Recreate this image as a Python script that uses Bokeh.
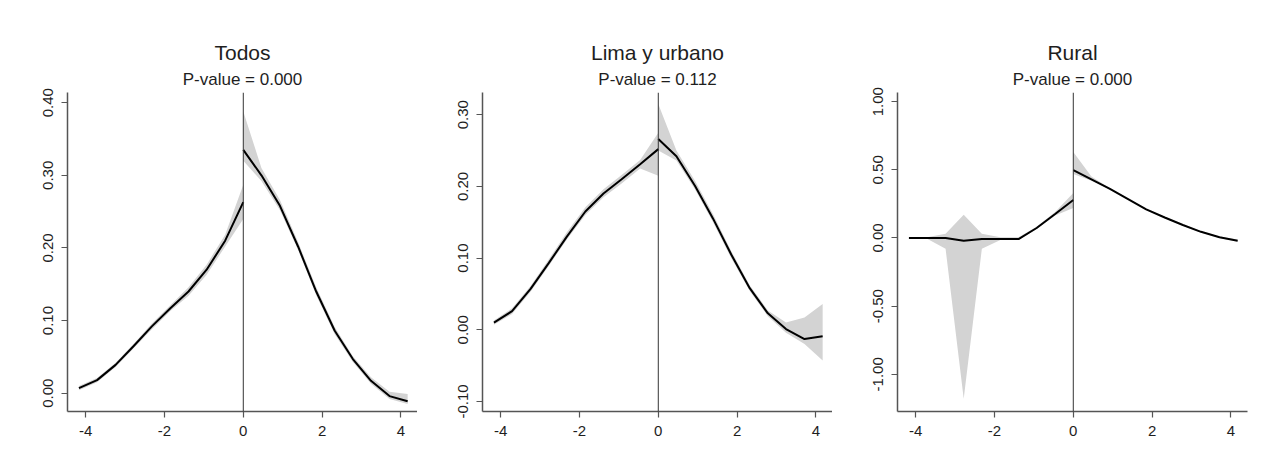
from bokeh.plotting import figure
from bokeh.layouts import row
from bokeh.models import Span, Title, FixedTicker, PrintfTickFormatter, Range1d
from bokeh.embed import file_html
from bokeh.resources import INLINE

# ---- data ----
x_left = [-4.17, -3.71, -3.24, -2.78, -2.32, -1.85, -1.39, -0.93, -0.46, 0.0]
x_right = [0.0, 0.46, 0.93, 1.39, 1.85, 2.32, 2.78, 3.24, 3.71, 4.17]

todos_fit_left = [0.007, 0.018, 0.039, 0.065, 0.092, 0.117, 0.140, 0.170, 0.210, 0.263]
todos_lo_left = [0.004, 0.015, 0.036, 0.062, 0.088, 0.113, 0.134, 0.163, 0.202, 0.240]
todos_hi_left = [0.010, 0.021, 0.042, 0.068, 0.096, 0.121, 0.146, 0.177, 0.218, 0.287]
todos_fit_right = [0.335, 0.300, 0.258, 0.202, 0.140, 0.086, 0.047, 0.017, -0.004, -0.011]
todos_lo_right = [0.320, 0.292, 0.252, 0.197, 0.135, 0.081, 0.043, 0.013, -0.008, -0.015]
todos_hi_right = [0.388, 0.310, 0.266, 0.208, 0.146, 0.091, 0.051, 0.022, 0.002, -0.001]

lima_fit_left = [0.010, 0.026, 0.057, 0.093, 0.130, 0.165, 0.190, 0.210, 0.231, 0.252]
lima_lo_left = [0.007, 0.022, 0.053, 0.089, 0.126, 0.160, 0.185, 0.204, 0.225, 0.215]
lima_hi_left = [0.013, 0.030, 0.061, 0.098, 0.136, 0.171, 0.196, 0.216, 0.237, 0.275]
lima_fit_right = [0.266, 0.242, 0.201, 0.155, 0.105, 0.058, 0.023, 0.001, -0.013, -0.009]
lima_lo_right = [0.250, 0.236, 0.196, 0.150, 0.100, 0.054, 0.019, -0.004, -0.020, -0.043]
lima_hi_right = [0.315, 0.250, 0.208, 0.161, 0.110, 0.062, 0.027, 0.010, 0.017, 0.036]

rural_fit_left = [0.0, 0.0, 0.0, -0.02, -0.008, -0.008, -0.008, 0.073, 0.176, 0.279]
rural_lo_left = [-0.005, -0.005, -0.08, -1.18, -0.08, -0.015, -0.015, 0.065, 0.165, 0.22]
rural_hi_left = [0.005, 0.005, 0.03, 0.17, 0.03, 0.005, 0.005, 0.082, 0.19, 0.33]
rural_fit_right = [0.498, 0.43, 0.36, 0.285, 0.21, 0.15, 0.095, 0.045, 0.005, -0.02]
rural_lo_right = [0.47, 0.42, 0.355, 0.28, 0.205, 0.145, 0.09, 0.04, 0.0, -0.028]
rural_hi_right = [0.63, 0.45, 0.365, 0.29, 0.215, 0.155, 0.10, 0.05, 0.01, -0.012]

titles = ["Todos", "Lima y urbano", "Rural"]
pvalues = ["P-value = 0.000", "P-value = 0.112", "P-value = 0.000"]
x_ticks = [-4, -2, 0, 2, 4]
todos_yticks = [0.0, 0.1, 0.2, 0.3, 0.4]
lima_yticks = [-0.1, 0.0, 0.1, 0.2, 0.3]
rural_yticks = [-1.0, -0.5, 0.0, 0.5, 1.0]

FONT = "Liberation Sans"
TXT = "#1e1e1e"
AX = "#555555"


def panel(title, pval, fl, lol, hil, fr, lor, hir, yr, yticks, width, bl, br):
    p = figure(width=width, height=460, output_backend="svg", toolbar_location=None,
               x_range=Range1d(-4.46, 4.42), y_range=Range1d(*yr),
               min_border_left=bl, min_border_right=br,
               min_border_top=92, min_border_bottom=49)
    p.title.text = title
    p.title.align = "center"
    p.title.text_font = FONT
    p.title.text_font_size = "21px"
    p.title.text_font_style = "normal"
    p.title.text_color = TXT
    p.title.standoff = 2
    p.add_layout(Title(text=pval, align="center", text_font=FONT, text_font_size="17px",
                       text_font_style="normal", text_color=TXT, standoff=7), "above")
    p.varea(x=x_left, y1=lol, y2=hil, fill_color="#d3d3d3")
    p.varea(x=x_right, y1=lor, y2=hir, fill_color="#d3d3d3")
    p.add_layout(Span(location=0, dimension="height", line_color="#333333", line_width=1))
    p.line(x_left, fl, line_color="black", line_width=2)
    p.line(x_right, fr, line_color="black", line_width=2)
    p.xgrid.visible = False
    p.ygrid.visible = False
    p.outline_line_color = None
    p.background_fill_color = "white"
    p.border_fill_color = "white"
    for ax in (p.xaxis[0], p.yaxis[0]):
        ax.axis_line_color = AX
        ax.axis_line_width = 1.5
        ax.major_tick_line_color = AX
        ax.major_tick_line_width = 1.2
        ax.major_tick_out = 6
        ax.major_tick_in = 0
        ax.minor_tick_out = 0
        ax.minor_tick_in = 0
        ax.major_label_standoff = 8
        ax.major_label_text_font = FONT
        ax.major_label_text_font_size = "15px"
        ax.major_label_text_color = TXT
    p.xaxis.ticker = FixedTicker(ticks=x_ticks)
    p.xaxis.formatter = PrintfTickFormatter(format="%d")
    p.yaxis.ticker = FixedTicker(ticks=yticks)
    p.yaxis.formatter = PrintfTickFormatter(format="%.2f")
    p.yaxis.major_label_orientation = "vertical"
    return p


p1 = panel(titles[0], pvalues[0], todos_fit_left, todos_lo_left, todos_hi_left,
           todos_fit_right, todos_lo_right, todos_hi_right, (-0.0252, 0.414), todos_yticks,
           417, 67, 0)
p2 = panel(titles[1], pvalues[1], lima_fit_left, lima_lo_left, lima_hi_left,
           lima_fit_right, lima_lo_right, lima_hi_right, (-0.114, 0.331), lima_yticks,
           415, 65, 0)
p3 = panel(titles[2], pvalues[2], rural_fit_left, rural_lo_left, rural_hi_left,
           rural_fit_right, rural_lo_right, rural_hi_right, (-1.273, 1.067), rural_yticks,
           444, 65, 29)

layout = row(p1, p2, p3, spacing=0)
open("out.html", "w").write(file_html(layout, INLINE))
